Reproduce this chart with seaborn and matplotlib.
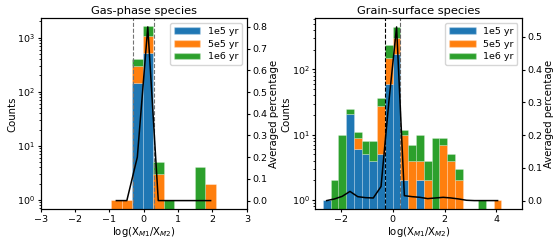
import numpy as np
import pandas as pd
import seaborn as sns
import matplotlib.pyplot as plt
from matplotlib.patches import Patch

# model ages and their colours
ages = ["1e5 yr", "5e5 yr", "1e6 yr"]
colors = ["#1f77b4", "#ff7f0e", "#2ca02c"]

# gas-phase species: bin edges, counts per age, averaged fraction per bin
gas_bins = [-0.95, -0.645, -0.34, -0.035, 0.27, 0.575, 0.88, 1.185, 1.49, 1.795, 2.1]
gas_1e5 = [0, 0, 143, 527, 0, 0, 0, 0, 0, 0]
gas_5e5 = [1, 1, 160, 522, 3, 0, 0, 0, 0, 2]
gas_1e6 = [0, 0, 95, 596, 2, 1, 0, 0, 4, 0]
gas_avg = [0.0, 0.0, 0.2, 0.8, 0.0, 0.0, 0.0, 0.0, 0.0, 0.0]

# grain-surface species
grain_bins = [-2.7, -2.4, -2.1, -1.8, -1.5, -1.2, -0.9, -0.6, -0.3, 0.0, 0.3, 0.6,
              0.9, 1.2, 1.5, 1.8, 2.1, 2.4, 2.7, 3.0, 3.3, 3.6, 3.9, 4.2]
grain_1e5 = [1, 0, 0, 21, 6, 5, 4, 5, 60, 170, 2, 0, 2, 0, 0, 0, 0, 0, 0, 0, 0, 0, 0]
grain_5e5 = [0, 0, 0, 0, 3, 0, 0, 23, 92, 139, 8, 4, 2, 2, 0, 7, 4, 2, 0, 0, 0, 0, 1]
grain_1e6 = [0, 2, 10, 4, 2, 3, 4, 9, 84, 142, 2, 3, 6, 2, 9, 2, 1, 1, 0, 0, 1, 0, 0]
grain_avg = [0.0, 0.005, 0.013, 0.028, 0.012, 0.009, 0.008, 0.043, 0.30, 0.53, 0.015,
             0.012, 0.010, 0.006, 0.008, 0.010, 0.008, 0.005, 0.001, 0.0, 0.0, 0.0, 0.0]

XLABEL = r"log(X$_{M1}$/X$_{M2}$)"
EDGE = (1, 1, 1, 0.25)


def bin_centers(edges):
    e = np.asarray(edges)
    return (e[:-1] + e[1:]) / 2


def long_table(edges, counts):
    centers = bin_centers(edges)
    rows = []
    for age, c in zip(ages, counts):
        for x, n in zip(centers, c):
            if n > 0:
                rows.append({"x": x, "n": n, "age": age})
    return pd.DataFrame(rows)


def draw_panel(ax, title, edges, counts, avg, xlim, ylim, dash_colors):
    df = long_table(edges, counts)
    # reversed hue order so that 1e5 yr ends up at the bottom of the stack
    sns.histplot(data=df, x="x", weights="n", hue="age", hue_order=ages[::-1],
                 palette=dict(zip(ages, colors)), bins=edges, multiple="stack",
                 alpha=1, edgecolor=EDGE, linewidth=0.6,
                 legend=False, ax=ax)
    ax.set_yscale("log")
    ax.set_xlim(*xlim)
    ax.set_ylim(*ylim)
    ax.axvline(-np.log10(2), color=dash_colors[0], ls="--", lw=0.8)
    ax.axvline(np.log10(2), color=dash_colors[1], ls="--", lw=0.8)
    ax.set_title(title, fontsize=8.2, pad=3)
    ax.set_xlabel(XLABEL, fontsize=7.3, labelpad=1)
    ax.set_ylabel("Counts", fontsize=7.3, labelpad=0)
    ax.tick_params(labelsize=6.8, length=2.5, pad=1.5)
    ax.tick_params(which="minor", length=1.5)

    handles = [Patch(facecolor=c, edgecolor=EDGE, label=a)
               for a, c in zip(ages, colors)]
    ax.legend(handles=handles, loc="upper right", fontsize=6.8, handlelength=2.8,
              borderpad=0.4, labelspacing=0.4)

    ax2 = ax.twinx()
    sns.lineplot(x=bin_centers(edges), y=avg, color="k", lw=1.1, ax=ax2)
    ax2.set_ylabel("Averaged percentage", fontsize=7.3, labelpad=1)
    ax2.tick_params(labelsize=6.8, length=2.5, pad=1.5)


fig = plt.figure(figsize=(5.6, 2.4), dpi=100)
ax_gas = fig.add_axes([0.0727, 0.128, 0.368, 0.796])
ax_grain = fig.add_axes([0.5625, 0.128, 0.370, 0.796])

draw_panel(ax_gas, "Gas-phase species", gas_bins,
           [gas_1e5, gas_5e5, gas_1e6], gas_avg, (-3, 3), (0.673, 2280),
           ("0.45", "0.45"))
draw_panel(ax_grain, "Grain-surface species", grain_bins,
           [grain_1e5, grain_5e5, grain_1e6], grain_avg, (-3, 5), (0.72, 610),
           ("k", "0.4"))

fig.savefig("out.png", dpi=100)
